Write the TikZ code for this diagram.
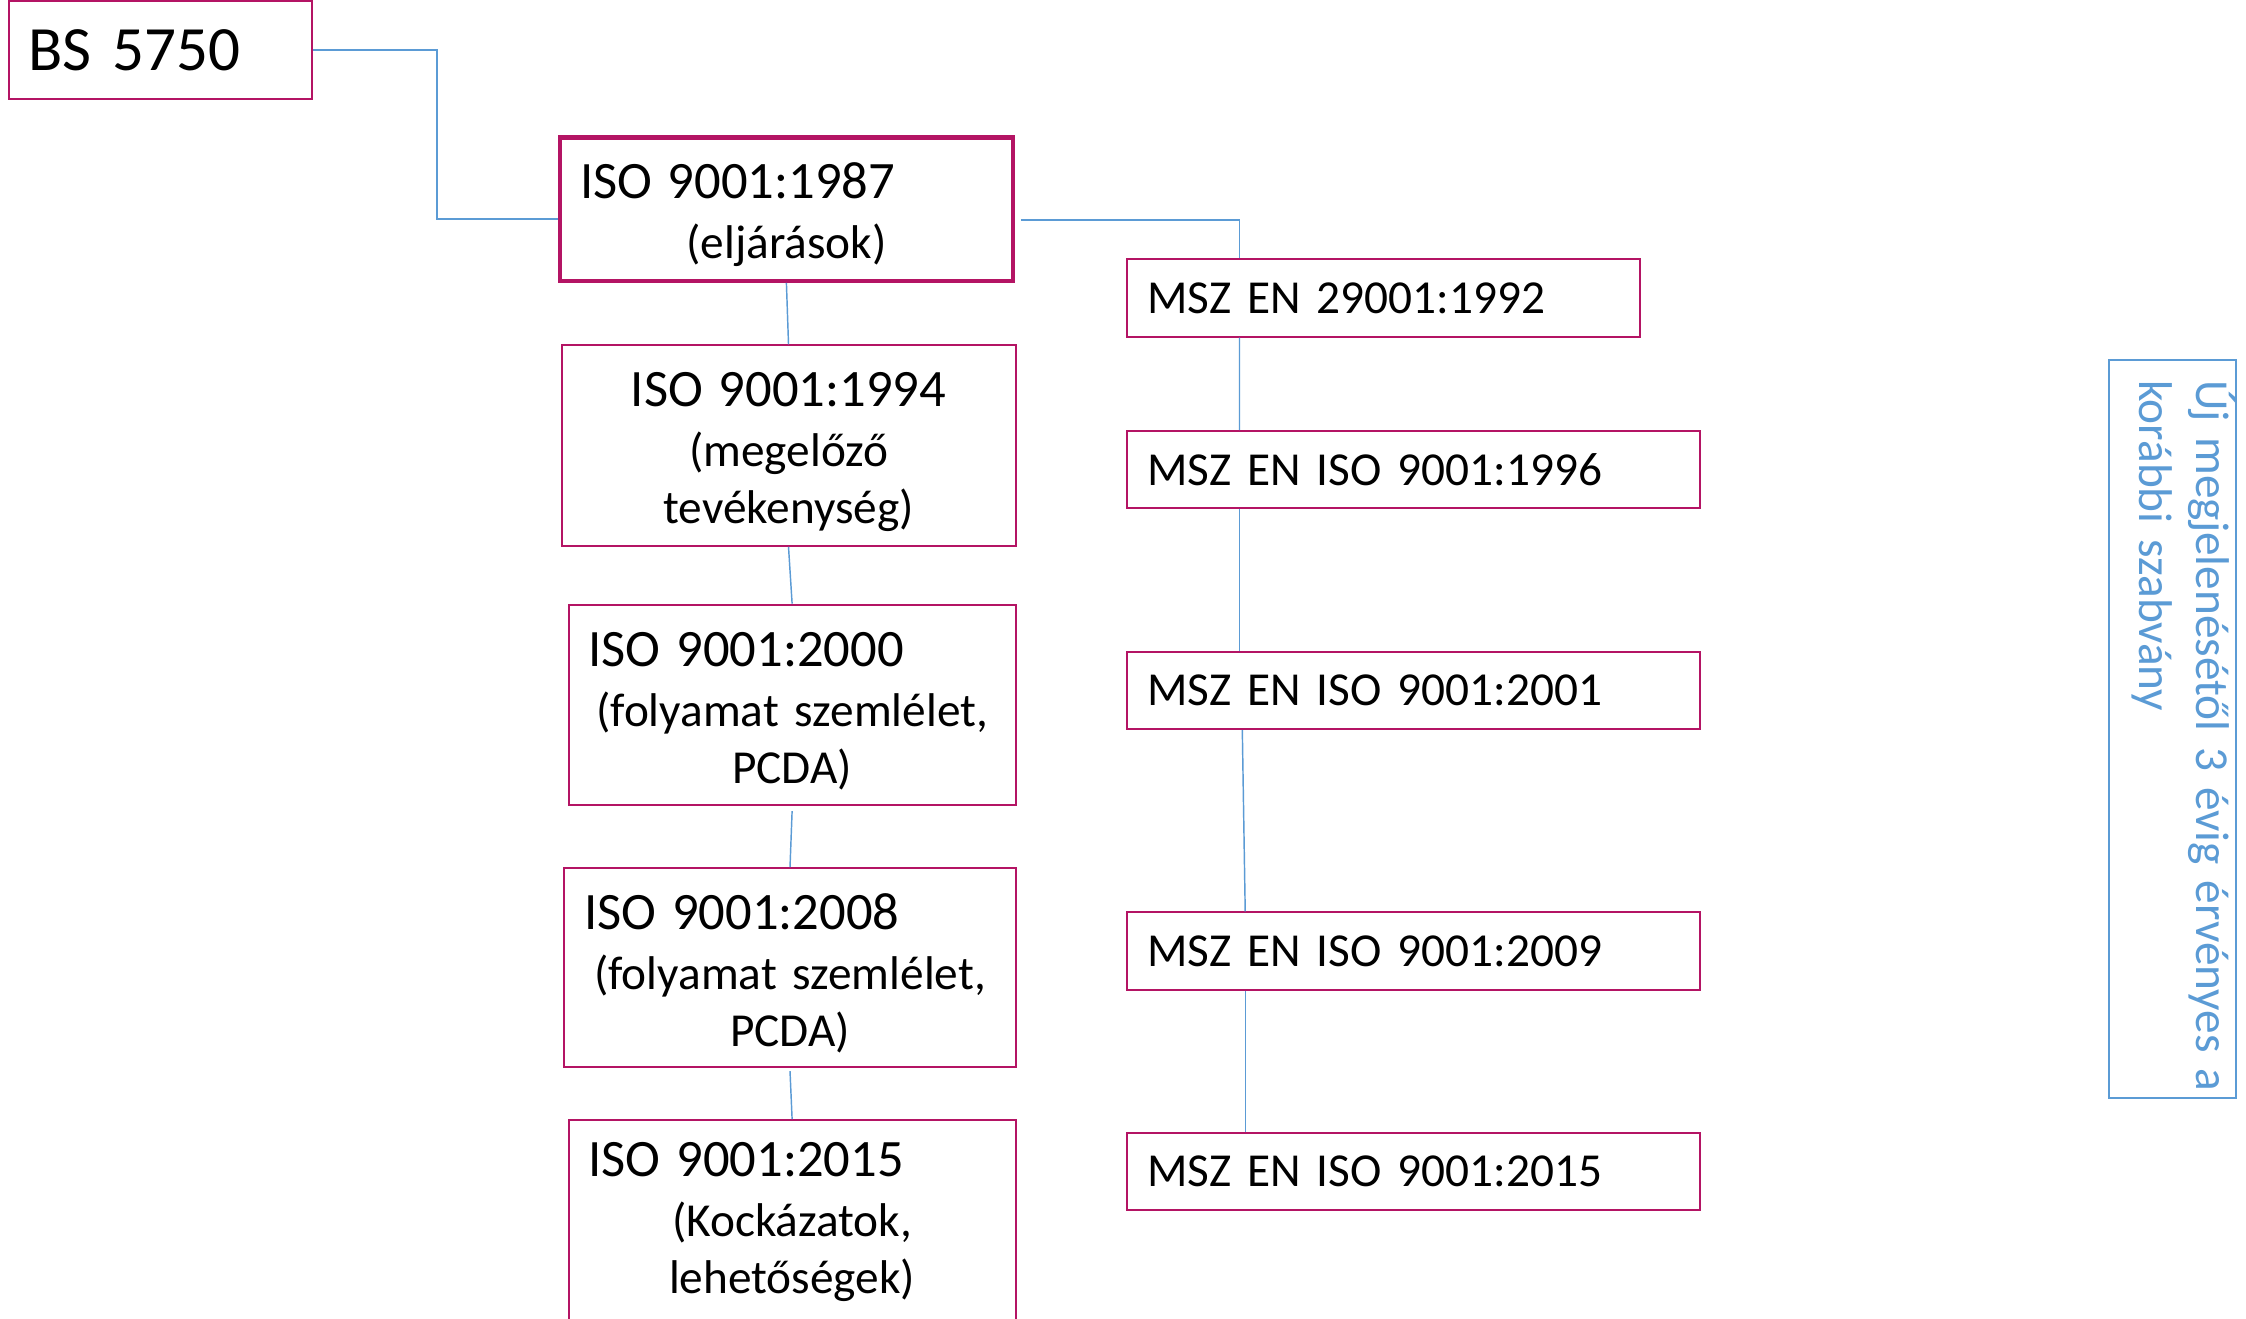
\documentclass[tikz,border=0pt]{standalone}
\usepackage{fontspec}
\setmainfont{Carlito}
\usetikzlibrary{calc}
\definecolor{berry}{RGB}{180,20,100}
\definecolor{linkblue}{RGB}{91,155,213}
\newcommand\headA{\fontsize{20}{22.8}\selectfont}
\newcommand\bodyA{\fontsize{18}{21.8}\selectfont}
% taller first line: pushes a centred block of lines slightly down
\newcommand\topgap{\rule{0pt}{18pt}}
\begin{document}
\begin{tikzpicture}[x=0.3805pt,y=-0.3805pt,
  wh/.style 2 args={minimum width=#1*0.3805pt, minimum height=#2*0.3805pt,
                    text width=(#1-40)*0.3805pt},
  stdbox/.style={draw=berry, line width=0.76pt, inner xsep=20*0.3805pt,
                 inner ysep=0pt, fill=white, font=\bodyA},
  keybox/.style={stdbox, line width=1.6pt},
  conn/.style={draw=linkblue, line width=0.55pt}]
\useasboundingbox (0,0) rectangle (2246,1318);
\fill[white] (0,0) rectangle (2246,1318);
\clip (0,0) rectangle (2246,1318);

% international standard line
\node[stdbox, wh={303.7}{97.4}, align=left, font=\fontsize{24}{28.8}\selectfont]
  (bs) at (160.5,50.1) {BS 5750};
\node[keybox, wh={452.6}{143.2}, align=center] (iso87) at (786.4,209.1)
  {\headA\makebox[\linewidth][l]{\topgap ISO 9001:1987}\\[1pt]\bodyA(eljárások)\par};
\node[stdbox, wh={454}{200.5}, align=center] (iso94) at (788.5,445.5)
  {\headA\topgap ISO 9001:1994\\[1pt]\bodyA(megelőző\\tevékenység)\par};
\node[stdbox, wh={447}{200.5}, align=center] (iso00) at (792.1,704.8)
  {\headA\makebox[\linewidth][l]{\topgap ISO 9001:2000}\\[1pt]\bodyA(folyamat szemlélet,\\PCDA)\par};
\node[stdbox, wh={451.2}{199.1}, align=center] (iso08) at (790,967.6)
  {\headA\makebox[\linewidth][l]{\topgap ISO 9001:2008}\\[1pt]\bodyA(folyamat szemlélet,\\PCDA)\par};
\node[stdbox, wh={447}{203.6}, align=center] (iso15) at (792.1,1221.8)
  {\headA\makebox[\linewidth][l]{ISO 9001:2015}\\[1pt]\bodyA(Kockázatok,\\lehetőségek)\par};

% Hungarian adoptions
\node[stdbox, wh={512.8}{77.3}, align=left] (m92) at (1383.7,297.9) {MSZ EN 29001:1992};
\node[stdbox, wh={573}{77.3}, align=left] (m96) at (1413.8,469.8) {MSZ EN ISO 9001:1996};
\node[stdbox, wh={573}{77.3}, align=left] (m01) at (1413.8,690.4) {MSZ EN ISO 9001:2001};
\node[stdbox, wh={573}{77.3}, align=left] (m09) at (1413.8,951.1) {MSZ EN ISO 9001:2009};
\node[stdbox, wh={573}{77.3}, align=left] (m15) at (1413.8,1171.7) {MSZ EN ISO 9001:2015};

% side note, read from top to bottom
\node[draw=linkblue, line width=0.76pt, rotate=-90,
      minimum width=738*0.3805pt, minimum height=125*0.3805pt,
      text width=698*0.3805pt, inner xsep=20*0.3805pt, inner ysep=0pt,
      align=left, text=linkblue, font=\bodyA]
  (note) at (2172.5,729)
  {\mbox{Új megjelenésétől 3 évig érvényes a}\\korábbi szabvány\rule[-11.5pt]{0pt}{0pt}\par};

% connectors
\draw[conn] (bs.east) -- ++(123.7,0) |- ($(iso87.west)+(0,10)$);
\draw[conn] ($(iso87.east)+(6,11)$) -| ($(m92.north west)+(113.2,0)$);
\draw[conn] (iso87.south) -- (iso94.north);
\draw[conn] (iso94.south) -- (iso00.north);
\draw[conn] ($(iso00.south)+(0,5)$) -- (iso08.north);
\draw[conn] ($(iso08.south)+(0,3)$) -- (iso15.north);
\draw[conn] ($(m92.south west)+(113.2,0)$) -- ($(m96.north west)+(113.2,0)$);
\draw[conn] ($(m96.south west)+(113.2,0)$) -- ($(m01.north west)+(113.2,0)$);
\draw[conn] ($(m01.south west)+(116,0)$) -- ($(m09.north west)+(118.9,0)$);
\draw[conn] ($(m09.south west)+(118.9,0)$) -- ($(m15.north west)+(118.9,0)$);
\end{tikzpicture}
\end{document}
